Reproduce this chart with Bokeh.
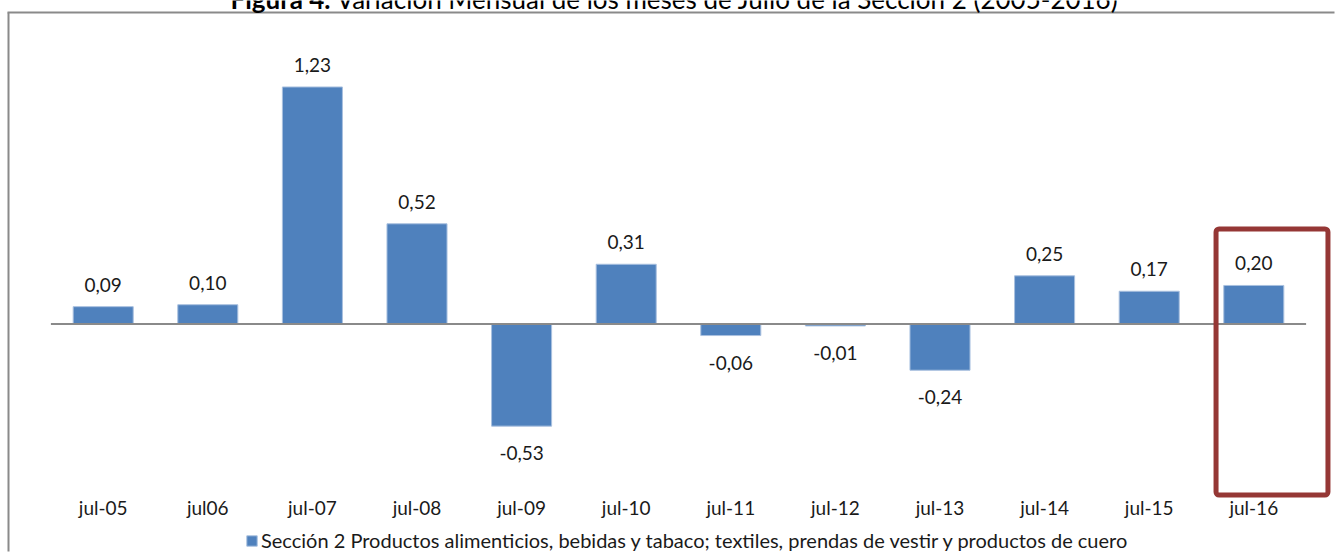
from bokeh.plotting import figure
from bokeh.models import (Range1d, LinearAxis, FixedTicker, ColumnDataSource, LabelSet, Label,
                          BoxAnnotation, Legend, LegendItem)
from bokeh.core.properties import value
from bokeh.embed import file_html
from bokeh.resources import INLINE

# ---------------- data ----------------
categories = ["jul-05", "jul06", "jul-07", "jul-08", "jul-09", "jul-10",
              "jul-11", "jul-12", "jul-13", "jul-14", "jul-15", "jul-16"]
values = [0.09, 0.10, 1.23, 0.52, -0.53, 0.31, -0.06, -0.01, -0.24, 0.25, 0.17, 0.20]
series_name = ("Sección 2 Productos alimenticios, bebidas y tabaco; textiles, "
               "prendas de vestir y productos de cuero")
title_bold = "Figura 4."
title_rest = "Variación Mensual de los meses de Julio de la Sección 2 (2005-2016)"
highlight = "jul-16"

# ---------------- geometry / style ----------------
W, H = 1335, 552
FONT = "Lato"
BAR = "#4F81BD"
TXT = "#1a1a1a"
GRAY = "#8a8a8a"
X0, PX_X = 102.7, 104.6      # pixel centre of first category, pixels per category
Y0, PX_Y = 323.5, 192.7      # pixel row of zero, pixels per unit

def xd(px):
    return (px - X0) / PX_X

def yd(py):
    return (Y0 - py) / PX_Y

n = len(categories)
idx = list(range(n))
labels = [f"{v:.2f}".replace(".", ",") for v in values]
offs = [22 if v >= 0 else -27 for v in values]

src = ColumnDataSource(dict(x=idx, v=values, lab=labels, off=offs))

p = figure(width=W, height=H,
           x_range=Range1d(xd(0), xd(W)), y_range=Range1d(yd(H), yd(0)),
           output_backend="svg", toolbar_location=None,
           x_axis_location=None, y_axis_location=None,
           min_border=0, min_border_left=0, min_border_right=0,
           min_border_top=0, min_border_bottom=0)
p.grid.visible = False
p.outline_line_color = None
p.background_fill_color = "white"
p.border_fill_color = "white"

# outer chart border (only top and left edges are inside the picture)
p.segment(x0=[xd(7), xd(8)], y0=[yd(12), yd(12)], x1=[xd(W - 1), xd(8)], y1=[yd(12), yd(H - 1)],
          line_color=GRAY, line_width=2, line_cap="butt")

bars = p.vbar(x="x", top="v", bottom=0, width=0.574, source=src,
              fill_color=BAR, line_color="#A9C0DF", line_width=1)

# zero line across the category band
p.segment(x0=[-0.5], x1=[n - 0.5], y0=[0], y1=[0], line_color=GRAY, line_width=2)

# data labels
p.add_layout(LabelSet(x="x", y="v", text="lab", y_offset="off", source=src,
                      text_align="center", text_baseline="middle",
                      text_font=value(FONT), text_font_size="19px", text_color=TXT))

# category axis at the bottom
xaxis = LinearAxis(ticker=FixedTicker(ticks=idx),
                   major_label_overrides={i: c for i, c in enumerate(categories)},
                   fixed_location=yd(485))
xaxis.axis_line_color = None
xaxis.major_tick_line_color = None
xaxis.minor_tick_line_color = None
xaxis.major_label_standoff = 4
xaxis.major_label_text_font = FONT
xaxis.major_label_text_font_size = "19px"
xaxis.major_label_text_color = TXT
p.add_layout(xaxis, "below")

# highlight box around last category
hi = categories.index(highlight)
p.add_layout(BoxAnnotation(left=hi - 0.361, right=hi + 0.709, top=yd(228.5), bottom=yd(494.5),
                           fill_alpha=0, line_color="#953735", line_alpha=1.0,
                           line_width=5, border_radius=3))

# title (partly cut at the top as in the reference)
p.add_layout(Label(x=xd(330), y=yd(-2), text=title_bold, text_align="right",
                   text_baseline="alphabetic", text_font=FONT, text_font_size="26px",
                   text_font_style="bold", text_color="black"))
p.add_layout(Label(x=xd(336), y=yd(-2), text=title_rest, text_align="left",
                   text_baseline="alphabetic", text_font=FONT, text_font_size="26px",
                   text_color="black"))

legend = Legend(items=[LegendItem(label=series_name, renderers=[bars])],
                location=(245, 0), orientation="horizontal",
                padding=0, margin=0, spacing=0,
                glyph_width=13, glyph_height=13, label_standoff=3,
                label_text_font=FONT, label_text_font_size="20px", label_text_color=TXT,
                border_line_color=None, background_fill_alpha=0)
p.add_layout(legend)

open("out.html", "w").write(file_html(p, INLINE))
